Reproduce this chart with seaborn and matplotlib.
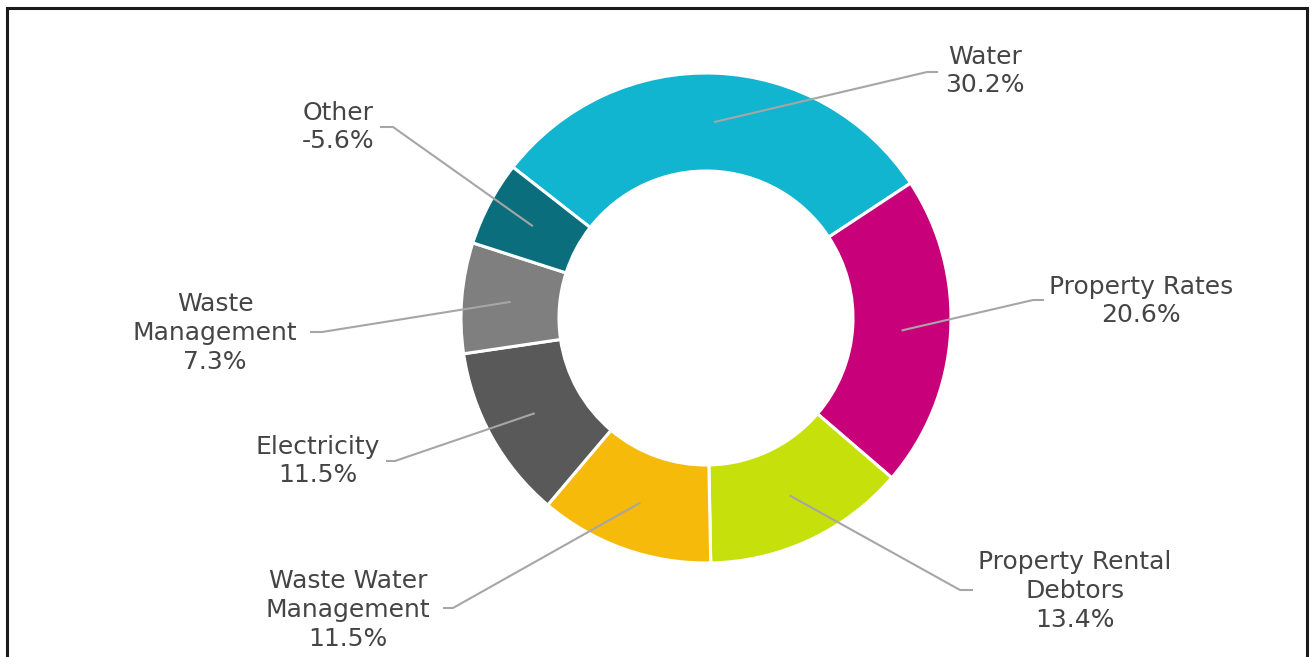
import numpy as np
import matplotlib
matplotlib.use("Agg")
import matplotlib.pyplot as plt
import seaborn as sns
from matplotlib.patches import Rectangle

# ---- data ----
categories = ["Water", "Property Rates", "Property Rental\nDebtors", "Waste Water\nManagement",
              "Electricity", "Waste\nManagement", "Other"]
shares = [30.2, 20.6, 13.4, 11.5, 11.5, 7.3, -5.6]
colors = ["#12B5CF", "#C8017A", "#C5E00B", "#F5BA0A", "#595959", "#7F7F7F", "#0A6E7D"]

# ---- layout (pixel positions, y from top) ----
W, H = 1311, 657
center_px = (706, 318)
r_out, r_in = 245, 147
label_pos = [(985, 71), (1141, 301), (1075, 591), (348, 610), (318, 461), (215, 333), (338, 127)]
elbow_end = [(938, 72), (1044, 300), (973, 590), (443, 608), (386, 461), (310, 332), (380, 127)]
elbow_bend = [(927, 72), (1033, 300), (960, 590), (453, 608), (395, 461), (322, 332), (393, 127)]

sns.set_style("white")
plt.rcParams["font.family"] = ["DejaVu Sans"]

fig = plt.figure(figsize=(W / 100, H / 100), dpi=100)
ax = fig.add_axes([0, 0, 1, 1])

def P(x, y):
    return (x, H - y)

cx, cy = P(*center_px)
wedges, _ = ax.pie(np.abs(shares), colors=colors, radius=r_out, center=(cx, cy),
                   startangle=142, counterclock=False,
                   wedgeprops=dict(width=r_out - r_in, edgecolor="white", linewidth=2.2),
                   frame=True)
ax.set_xlim(0, W)
ax.set_ylim(0, H)
ax.set_aspect("equal")
ax.axis("off")

r_mid = (r_out + r_in) / 2
for w, cat, val, lp, ee, eb in zip(wedges, categories, shares, label_pos, elbow_end, elbow_bend):
    th = np.deg2rad((w.theta1 + w.theta2) / 2)
    ax_x, ax_y = cx + r_mid * np.cos(th), cy + r_mid * np.sin(th)
    bx, by = P(*eb)
    ex, ey = P(*ee)
    ax.plot([ax_x, bx, ex], [ax_y, by, ey], color="#A6A6A6", lw=1.5, solid_capstyle="butt")
    tx, ty = P(*lp)
    ax.text(tx, ty, f"{cat}\n{val:.1f}%", ha="center", va="center", fontsize=18,
            color="#454545", linespacing=1.25)

fig.patches.append(Rectangle((7 / W, -0.1), 1300 / W, 1.1 - 8 / H, transform=fig.transFigure,
                             fill=False, edgecolor="#1a1a1a", linewidth=2.2))

fig.savefig("out.png", dpi=100)
